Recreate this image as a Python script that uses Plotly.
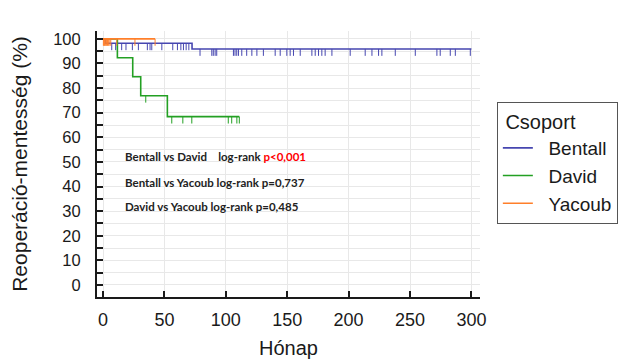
import plotly.graph_objects as go

# ---------------- data ----------------
groups = ["Bentall", "David", "Yacoub"]
colors = {"Bentall": "#4646b0", "David": "#23a023", "Yacoub": "#ff7f2a"}

# event times (months) and survival level (%) after each event
bentall_event_t = [2.0, 72.5]
bentall_event_s = [98.2, 95.9]
bentall_end = 300.0
bentall_censor = [7.1, 10.3, 15.2, 18.7, 23.9, 28.8, 36.1, 38.3, 39.7, 47.9, 56.8,
                  60.6, 63.4, 65.5, 67.7, 69.9, 79.0, 88.6, 89.8, 91.3, 92.6, 106.2,
                  107.5, 108.9, 110.3, 113.0, 117.0, 121.2, 125.3, 130.6, 140.2, 144.3,
                  149.7, 152.4, 155.1, 160.6, 170.1, 172.8, 175.5, 178.2, 180.9, 186.4,
                  201.3, 213.5, 219.0, 224.4, 227.1, 238.0, 254.3, 271.9, 274.6, 282.8,
                  286.9, 299.1]

david_event_t = [11.7, 24.2, 30.7, 52.4]
david_event_s = [92.3, 84.6, 76.9, 68.4]
david_end = 111.0
david_censor = [34.8, 56.0, 65.0, 72.3, 102.0, 104.8, 109.0, 111.0]

yacoub_event_t = []
yacoub_event_s = []
yacoub_end = 42.4
yacoub_censor = [0.3, 0.8, 1.3, 1.8, 2.4, 3.0, 3.6, 4.3, 5.0, 6.3, 11.2, 26.0, 42.4]

x_ticks = [0, 50, 100, 150, 200, 250, 300]
y_ticks = [0, 10, 20, 30, 40, 50, 60, 70, 80, 90, 100]

stats_lines = [
    "Bentall vs David&nbsp;&nbsp;&nbsp;&nbsp;log-rank <span style='color:#ff0000'>p&lt;0,001</span>",
    "Bentall vs Yacoub log-rank p=0,737",
    "David vs Yacoub log-rank p=0,485",
]
stats_y = [52.4, 41.5, 31.7]
stats_x = 16.3

curves = {
    "Bentall": (bentall_event_t, bentall_event_s, bentall_end, bentall_censor),
    "David": (david_event_t, david_event_s, david_end, david_censor),
    "Yacoub": (yacoub_event_t, yacoub_event_s, yacoub_end, yacoub_censor),
}

TICK_LEN = 2.8  # length of censor marks in % units (style)

def level_at(t, ev_t, ev_s):
    s = 100.0
    for et, es in zip(ev_t, ev_s):
        if t >= et:
            s = es
    return s

fig = go.Figure()

for g in groups:
    ev_t, ev_s, end, cens = curves[g]
    xs = [0.0] + list(ev_t) + [end]
    ys = [100.0] + list(ev_s) + [ev_s[-1] if ev_s else 100.0]
    fig.add_trace(go.Scatter(x=xs, y=ys, mode="lines", line=dict(color=colors[g], width=1.6, shape="hv"),
                             name="\u00a0\u00a0" + g, showlegend=True, hoverinfo="skip"))
    cx, cy = [], []
    for c in cens:
        lv = level_at(c, ev_t, ev_s)
        cx += [c, c, None]
        cy += [lv, lv - TICK_LEN, None]
    fig.add_trace(go.Scatter(x=cx, y=cy, mode="lines", line=dict(color=colors[g], width=1),
                             showlegend=False, hoverinfo="skip"))

for i, (txt, yy) in enumerate(zip(stats_lines, stats_y)):
    fig.add_annotation(x=stats_x, y=yy, xref="x", yref="y", text="<b>" + txt + "</b>",
                       showarrow=False, xanchor="left", yanchor="middle",
                       font=dict(family="Lato, Carlito, sans-serif", size=11.5, color="#222222"))

FAM = "Liberation Sans, Arial, sans-serif"
INK = "#1a1a1a"

fig.update_layout(
    width=631, height=351,
    margin=dict(l=89, r=159, t=23, b=62, autoexpand=False),
    paper_bgcolor="white", plot_bgcolor="white",
    font=dict(family=FAM, size=16, color=INK),
    showlegend=True,
    legend=dict(
        title=dict(text="\u00a0Csoport", font=dict(family=FAM, size=20, color=INK)),
        font=dict(family=FAM, size=19, color=INK),
        x=1.044, y=0.733, xanchor="left", yanchor="top",
        bordercolor="#555555", borderwidth=1, bgcolor="white",
        itemwidth=30,
    ),
    xaxis=dict(
        range=[-4.9, 307], tickvals=x_ticks, ticktext=[str(v) for v in x_ticks],
        showgrid=True, gridcolor="#e8e8e8", gridwidth=1,
        zeroline=False, showline=True, linecolor=INK, linewidth=2,
        ticks="inside", ticklen=6, tickwidth=2, tickcolor=INK,
        tickfont=dict(family=FAM, size=18, color=INK), ticklabelstandoff=5,
        title=dict(text="Hónap", font=dict(family=FAM, size=20, color=INK), standoff=14),
    ),
    yaxis=dict(
        range=[-4.9, 103.2], tickvals=y_ticks, ticktext=[str(v) for v in y_ticks],
        showgrid=True, gridcolor="#e8e8e8", gridwidth=1,
        zeroline=False, showline=True, linecolor=INK, linewidth=2,
        ticks="inside", ticklen=6, tickwidth=2, tickcolor=INK,
        minor=dict(dtick=5, tick0=0, ticks="inside", ticklen=6, tickwidth=2, tickcolor=INK,
                   showgrid=True, gridcolor="#e8e8e8"),
        tickfont=dict(family=FAM, size=16.5, color=INK), ticklabelstandoff=11,
        title=dict(text="Reoperáció-mentesség (%)", font=dict(family=FAM, size=21, color=INK),
                   standoff=22),
    ),
)

fig.write_html("out.html")
